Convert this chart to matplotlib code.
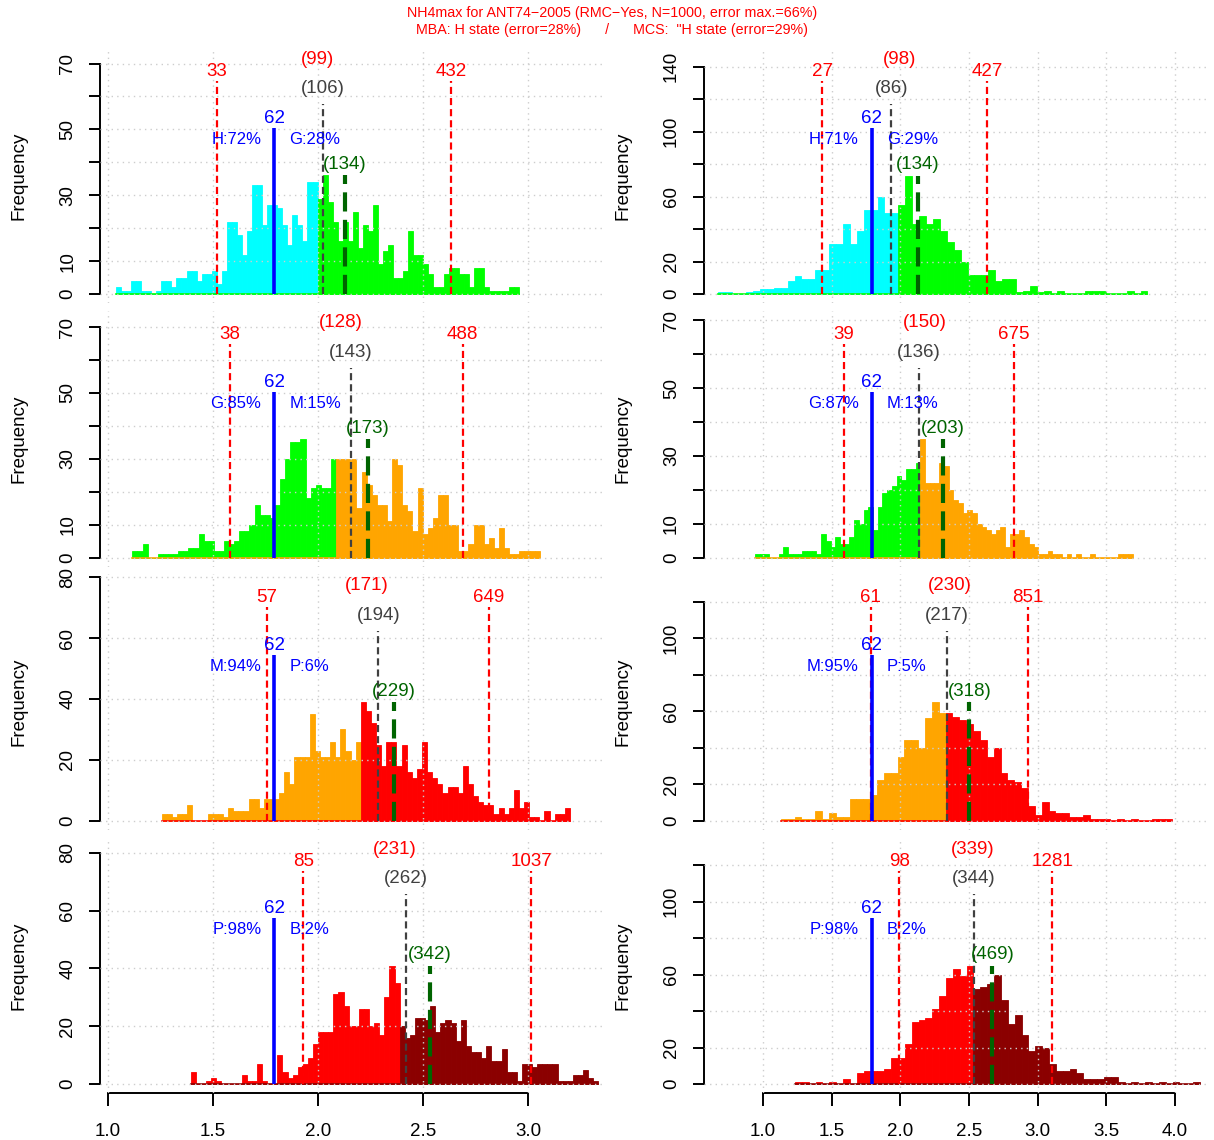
import numpy as np
import matplotlib
matplotlib.use("Agg")
import matplotlib.pyplot as plt
from matplotlib.transforms import offset_copy

plt.rcParams["font.family"] = ["Liberation Sans", "DejaVu Sans"]

# ------------------------------------------------------------------ data
standard = 62  # class boundary (blue line)

class_colours = {"H": "#00FFFF", "G": "#00FF00", "M": "#FFA500",
                 "P": "#FF0000", "B": "#8B0000"}
boundaries = [("H", "G"), ("G", "M"), ("M", "P"), ("P", "B")]

# histogram counts of log10(NH4max), MBA column
mba_hg_counts = [2, 1, 1, 4, 4, 1, 1, 0, 1, 4, 4, 2, 5, 5, 7, 7, 4, 6, 6, 7,
                 3, 7, 22, 22, 18, 12, 19, 33, 33, 21, 27, 27, 26, 21, 15, 24, 21, 16, 34, 34,
                 29, 36, 28, 22, 16, 22, 16, 25, 14, 21, 19, 27, 9, 13, 15, 5, 5, 7, 19, 12,
                 12, 9, 6, 2, 2, 6, 8, 8, 6, 6, 2, 8, 8, 2, 1, 1, 1, 1, 2, 2]
mba_gm_counts = [2, 2, 4, 0, 0, 1, 1, 1, 1, 2, 2, 3, 3, 7, 5, 5, 2, 2, 5, 4,
                 5, 8, 8, 10, 16, 13, 13, 12, 16, 24, 30, 35, 35, 36, 18, 21, 22, 21, 21, 30,
                 30, 30, 30, 30, 15, 26, 22, 19, 16, 16, 11, 30, 28, 16, 14, 8, 21, 7, 9, 12,
                 19, 19, 10, 10, 2, 2, 4, 10, 10, 4, 6, 3, 9, 3, 1, 1, 2, 2, 2, 2]
mba_mp_counts = [2, 2, 1, 2, 2, 5, 0, 0, 0, 2, 2, 2, 1, 4, 3, 3, 3, 7, 7, 4,
                 7, 7, 7, 9, 16, 12, 21, 21, 21, 35, 23, 21, 21, 26, 21, 30, 23, 20, 26, 39,
                 36, 32, 25, 18, 26, 26, 18, 25, 16, 14, 17, 26, 16, 14, 12, 9, 11, 11, 9, 18,
                 12, 8, 6, 5, 5, 2, 4, 2, 4, 10, 4, 6, 1, 1, 0, 3, 0, 2, 2, 4]
mba_pb_counts = [4, 0, 0, 1, 2, 1, 0, 0, 0, 0, 3, 1, 1, 7, 1, 0, 0, 10, 4, 2,
                 3, 6, 7, 9, 14, 18, 18, 18, 31, 32, 27, 20, 20, 26, 26, 20, 21, 17, 30, 41,
                 35, 20, 16, 17, 23, 23, 22, 27, 18, 21, 22, 21, 15, 22, 13, 11, 11, 9, 13, 8,
                 8, 12, 4, 4, 1, 7, 7, 6, 7, 7, 7, 7, 1, 1, 1, 3, 3, 5, 2, 1]

# histogram counts of log10(NH4max), MCS column
mcs_hg_counts = [1, 1, 0, 0, 1, 2, 3, 3, 4, 4, 8, 11, 9, 9, 15, 15, 31, 31, 43, 31,
                 39, 52, 52, 60, 50, 50, 55, 73, 43, 48, 43, 46, 39, 32, 27, 20, 12, 12, 12, 15,
                 8, 9, 9, 1, 2, 5, 1, 2, 0, 2, 0, 0, 0, 2, 2, 2, 0, 0, 0, 2, 0, 2]
mcs_gm_counts = [1, 1, 1, 0, 0, 1, 3, 1, 1, 1, 2, 2, 2, 1, 7, 5, 3, 6, 4, 4,
                 6, 11, 10, 14, 15, 8, 15, 19, 20, 21, 24, 23, 26, 26, 28, 35, 22, 22, 22, 28,
                 27, 20, 17, 16, 13, 14, 13, 10, 9, 8, 7, 8, 9, 3, 7, 7, 8, 6, 4, 3,
                 1, 1, 2, 1, 1, 0, 1, 0, 1, 0, 0, 1, 0, 0, 0, 0, 0, 1, 1, 1]
mcs_mp_counts = [1, 1, 2, 1, 1, 5, 1, 4, 2, 2, 12, 12, 12, 14, 22, 26, 26, 35, 44, 44,
                 40, 56, 65, 59, 59, 57, 55, 53, 49, 44, 35, 40, 26, 22, 21, 18, 8, 3, 10, 5,
                 4, 4, 2, 2, 3, 1, 1, 1, 0, 1, 0, 1, 0, 0, 1, 1, 1]
mcs_pb_counts = [1, 1, 0, 1, 0, 1, 0, 3, 0, 6, 7, 7, 7, 8, 14, 14, 22, 34, 35, 36,
                 41, 48, 58, 63, 59, 65, 52, 53, 55, 60, 46, 33, 38, 27, 18, 21, 20, 11, 7, 7,
                 8, 6, 3, 3, 3, 4, 4, 1, 0, 1, 0, 1, 0, 1, 0, 1, 0, 0, 1]

# histogram range (log10 units) of each panel
mba_ranges = [(1.038, 2.958), (1.116, 3.056), (1.256, 3.200), (1.394, 3.335)]
mcs_ranges = [(0.675, 3.800), (0.942, 3.692), (1.130, 3.980), (1.233, 4.183)]
# first bin belonging to the upper class
mba_split = [40, 40, 39, 41]
mcs_split = [26, 35, 24, 26]

# summary values
mba_low = [33, 38, 57, 85]
mba_high = [432, 488, 649, 1037]
mba_mean = [99, 128, 171, 231]
mba_median = [106, 143, 194, 262]
mba_p = [134, 173, 229, 342]
mba_pct = [(72, 28), (85, 15), (94, 6), (98, 2)]

mcs_low = [27, 39, 61, 98]
mcs_high = [427, 675, 851, 1281]
mcs_mean = [98, 150, 230, 339]
mcs_median = [86, 136, 217, 344]
mcs_p = [134, 203, 318, 469]
mcs_pct = [(71, 29), (87, 13), (95, 5), (98, 2)]

# y axis ticks / labelled ticks per panel
mba_ytick_step = [10, 10, 20, 20]
mba_ytick_top = [70, 70, 80, 80]
mba_ylabels = [[0, 10, 30, 50, 70], [0, 10, 30, 50, 70],
               [0, 20, 40, 60, 80], [0, 20, 40, 60, 80]]
mcs_ytick_step = [20, 10, 20, 20]
mcs_ytick_top = [140, 70, 120, 120]
mcs_ylabels = [[0, 20, 60, 100, 140], [0, 10, 30, 50, 70],
               [0, 20, 60, 100], [0, 20, 60, 100]]

mba_xticks = [1.0, 1.5, 2.0, 2.5, 3.0]
mcs_xticks = [1.0, 1.5, 2.0, 2.5, 3.0, 3.5, 4.0]

title_1 = "NH4max for ANT74\u22122005 (RMC\u2212Yes, N=1000, error max.=66%)"
title_2 = 'MBA: H state (error=28%)      /      MCS:  "H state (error=29%)'

# ------------------------------------------------------------------ layout
W, H, DPI = 1214, 1140, 100
ZERO_Y = [294.0, 557.5, 820.5, 1084.0]   # pixel row of count 0
H0 = 237.0                                # pixel height of 2*max(count)
COL_X = [100.0, 703.5]
PLOT_W = 505.0
XLIM = [(0.9619, 3.3667), (0.5666, 4.2447)]
FS = 13.5
FS_PCT = 12.0

RED, GREY, BLUE, DKGREEN = "#FF0000", "#404040", "#0000FF", "#006400"
GRID = "#CDCDCD"

fig = plt.figure(figsize=(W / DPI, H / DPI), dpi=DPI)

columns = [
    dict(counts=[mba_hg_counts, mba_gm_counts, mba_mp_counts, mba_pb_counts],
         ranges=mba_ranges, split=mba_split, low=mba_low, high=mba_high,
         mean=mba_mean, median=mba_median, p=mba_p, pct=mba_pct,
         step=mba_ytick_step, top=mba_ytick_top, ylab=mba_ylabels, xticks=mba_xticks),
    dict(counts=[mcs_hg_counts, mcs_gm_counts, mcs_mp_counts, mcs_pb_counts],
         ranges=mcs_ranges, split=mcs_split, low=mcs_low, high=mcs_high,
         mean=mcs_mean, median=mcs_median, p=mcs_p, pct=mcs_pct,
         step=mcs_ytick_step, top=mcs_ytick_top, ylab=mcs_ylabels, xticks=mcs_xticks),
]

for col, spec in enumerate(columns):
    for row in range(4):
        y0 = ZERO_Y[row]
        top_px = y0 - 1.04 * H0
        h_px = 1.08 * H0
        ax = fig.add_axes([COL_X[col] / W, 1 - (top_px + h_px) / H, PLOT_W / W, h_px / H])

        counts = np.asarray(spec["counts"][row], dtype=float)
        lo, hi = spec["ranges"][row]
        edges = np.linspace(lo, hi, len(counts) + 1)
        widths = np.diff(edges)
        ymax = 2 * counts.max()
        ax.set_xlim(*XLIM[col])
        ax.set_ylim(-0.04 * ymax, 1.04 * ymax)

        c_lo, c_hi = boundaries[row]
        col_lo, col_hi = class_colours[c_lo], class_colours[c_hi]
        s = spec["split"][row]
        ax.bar(edges[:s], counts[:s], width=widths[:s], align="edge",
               color=col_lo, edgecolor=col_lo, linewidth=0.6, zorder=2)
        ax.bar(edges[s:-1], counts[s:], width=widths[s:], align="edge",
               color=col_hi, edgecolor=col_hi, linewidth=0.6, zorder=2.2)
        ax.plot([edges[0], edges[-1]], [0, 0], color=col_hi, lw=1.2, zorder=2.4)

        # dotted grid
        yticks = np.arange(0, spec["top"][row] + 1, spec["step"][row])
        for gx in spec["xticks"]:
            ax.axvline(gx, color=GRID, lw=1.0, ls=(0, (1, 3)), zorder=3)
        for gy in yticks:
            ax.axhline(gy, color=GRID, lw=1.0, ls=(0, (1, 3)), zorder=3)

        # reference lines
        xs = np.log10(standard)
        for v in (spec["low"][row], spec["high"][row]):
            ax.plot([np.log10(v)] * 2, [0, 0.9 * ymax], color=RED, lw=1.6,
                    ls=(0, (3.2, 1.8)), zorder=4)
            ax.text(np.log10(v), 0.94 * ymax, f"{v}", color=RED, fontsize=FS,
                    ha="center", va="center", zorder=8)
        xm = np.log10(spec["median"][row])
        ax.plot([xm, xm], [0, 0.8 * ymax], color=GREY, lw=1.6,
                ls=(0, (3.2, 1.8)), zorder=5)
        ax.text(xm, 0.865 * ymax, f"({spec['median'][row]})", color=GREY,
                fontsize=FS, ha="center", va="center", zorder=8)
        ax.text(np.log10(spec["mean"][row]), 0.99 * ymax, f"({spec['mean'][row]})",
                color=RED, fontsize=FS, ha="center", va="center", zorder=8)
        ax.plot([xs, xs], [0, 0.7 * ymax], color=BLUE, lw=2.6, zorder=6,
                solid_capstyle="butt")
        ax.text(xs, 0.74 * ymax, f"{standard}", color=BLUE, fontsize=FS,
                ha="center", va="center", zorder=8)
        p_lo, p_hi = spec["pct"][row]
        ax.text(xs, 0.65 * ymax, f"{c_lo}:{p_lo}%", color=BLUE, fontsize=FS_PCT,
                ha="right", va="center", zorder=8,
                transform=offset_copy(ax.transData, fig=fig, x=-13, y=0, units="dots"))
        ax.text(xs, 0.65 * ymax, f"{c_hi}:{p_hi}%", color=BLUE, fontsize=FS_PCT,
                ha="left", va="center", zorder=8,
                transform=offset_copy(ax.transData, fig=fig, x=15, y=0, units="dots"))
        xg = np.log10(spec["p"][row])
        ax.plot([xg, xg], [0, 0.5 * ymax], color=DKGREEN, lw=3.0,
                ls=(0, (4.6, 2.0)), zorder=7)
        ax.text(xg, 0.545 * ymax, f"({spec['p'][row]})", color=DKGREEN,
                fontsize=FS, ha="center", va="center", zorder=8)

        # axes in R style
        for side in ("top", "right", "bottom"):
            ax.spines[side].set_visible(False)
        ax.spines["left"].set_bounds(0, yticks[-1])
        ax.spines["left"].set_linewidth(1.4)
        ax.set_yticks(yticks)
        ax.set_yticklabels([str(t) if t in spec["ylab"][row] else "" for t in yticks])
        ax.tick_params(axis="y", direction="out", length=8, width=1.4, pad=9,
                       labelsize=FS, labelrotation=90)
        for lab in ax.get_yticklabels():
            lab.set_va("center")
        if row == 3:
            ax.spines["bottom"].set_visible(True)
            ax.spines["bottom"].set_bounds(spec["xticks"][0], spec["xticks"][-1])
            ax.spines["bottom"].set_linewidth(1.4)
            ax.set_xticks(spec["xticks"])
            ax.set_xticklabels([f"{t:.1f}" for t in spec["xticks"]])
            ax.tick_params(axis="x", direction="out", length=9, width=1.4, pad=12,
                           labelsize=FS)
        else:
            ax.set_xticks([])
        ax.patch.set_visible(False)

        fig.text((19 if col == 0 else 623) / W, 1 - (y0 - 0.5 * H0) / H, "Frequency",
                 rotation=90, ha="center", va="center", fontsize=FS)

fig.text(612 / W, 1 - 13 / H, title_1, color=RED, fontsize=10.3, ha="center", va="center")
fig.text(612 / W, 1 - 30 / H, title_2, color=RED, fontsize=10.3, ha="center", va="center")

fig.savefig("out.png", dpi=DPI)
